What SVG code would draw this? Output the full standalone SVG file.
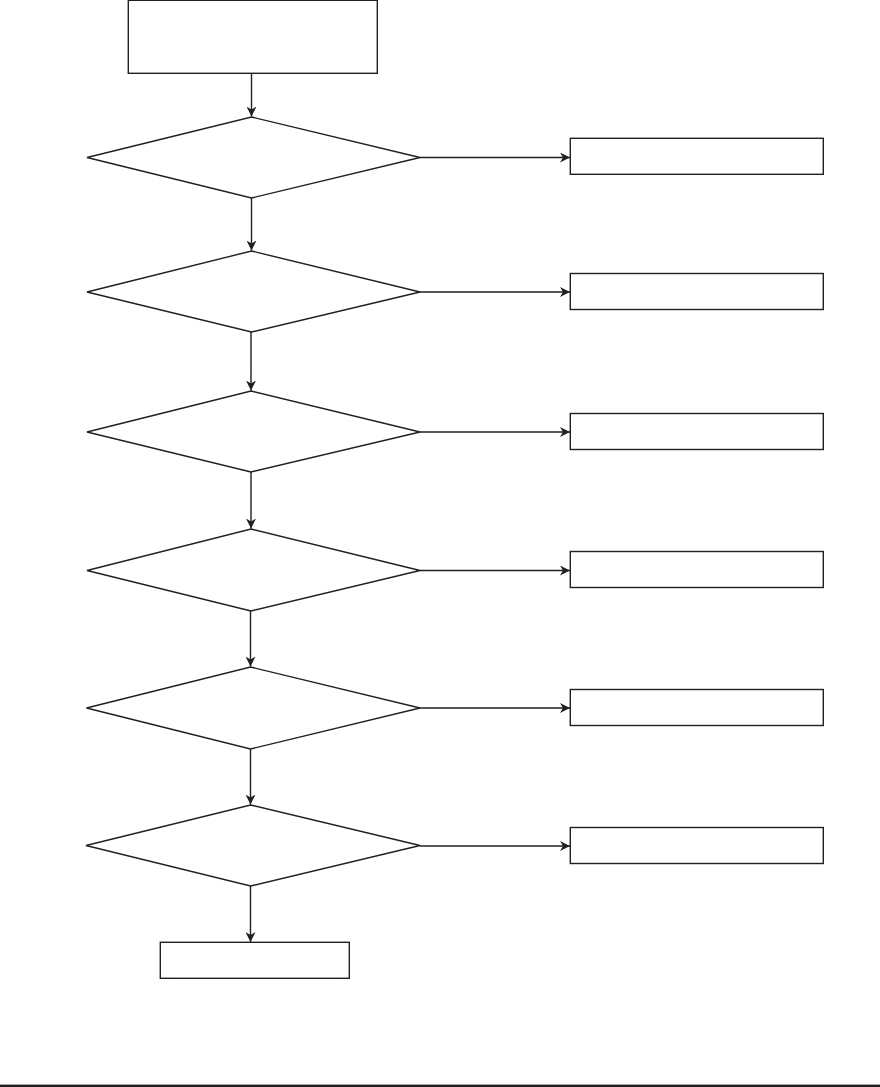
<svg xmlns="http://www.w3.org/2000/svg" width="880" height="1087" viewBox="0 0 880 1087">
<style>
.n{fill:#fff;stroke:#231f20;stroke-width:1.4}
.c{fill:none;stroke:#231f20;stroke-width:1.4}
</style>
<defs>
<marker id="a" viewBox="0 0 10 10" refX="10" refY="5" markerWidth="10" markerHeight="10" markerUnits="userSpaceOnUse" orient="auto">
<path d="M0,0 L10,5 L0,10 L3,5 Z" fill="#231f20"/>
</marker>
</defs>
<rect width="880" height="1087" fill="#fff"/>
<g id="connectors">
<path class="c" d="M251.5,73 V116.5" marker-end="url(#a)"/>
<path class="c" d="M251.5,198 V250.5" marker-end="url(#a)"/>
<path class="c" d="M251,332 V390.5" marker-end="url(#a)"/>
<path class="c" d="M251,472 V528.5" marker-end="url(#a)"/>
<path class="c" d="M250.5,611 V666.5" marker-end="url(#a)"/>
<path class="c" d="M250.5,749 V804.5" marker-end="url(#a)"/>
<path class="c" d="M250.5,886 V942" marker-end="url(#a)"/>
<path class="c" d="M420,157.5 H570" marker-end="url(#a)"/>
<path class="c" d="M420,292 H570" marker-end="url(#a)"/>
<path class="c" d="M420,432 H570" marker-end="url(#a)"/>
<path class="c" d="M420,570.5 H570" marker-end="url(#a)"/>
<path class="c" d="M420,708 H570" marker-end="url(#a)"/>
<path class="c" d="M420,846 H570" marker-end="url(#a)"/>
</g>
<g id="start"><rect class="n" x="128.3" y="0.3" width="249" height="73"/></g>
<g id="d1"><polygon class="n" points="251.5,117 420,157.5 251.5,198 87,157.5"/></g>
<g id="d2"><polygon class="n" points="251.5,251 420,292 251.5,332 87,292"/></g>
<g id="d3"><polygon class="n" points="251,391 420,432 251,472 87,432"/></g>
<g id="d4"><polygon class="n" points="251,529 420,570.5 251,611 87,570.5"/></g>
<g id="d5"><polygon class="n" points="250.5,667 420,708 250.5,749 86.5,708"/></g>
<g id="d6"><polygon class="n" points="250.5,805 420,845.5 250.5,886 86,845.5"/></g>
<g id="b1"><rect class="n" x="570.3" y="138.3" width="253" height="36"/></g>
<g id="b2"><rect class="n" x="570.3" y="273.5" width="253" height="36"/></g>
<g id="b3"><rect class="n" x="570.3" y="413.5" width="253" height="36"/></g>
<g id="b4"><rect class="n" x="570.3" y="551.5" width="253" height="36"/></g>
<g id="b5"><rect class="n" x="570.3" y="689.5" width="253" height="36"/></g>
<g id="b6"><rect class="n" x="570.3" y="827.5" width="253" height="36"/></g>
<g id="end"><rect class="n" x="160.3" y="942.3" width="189" height="36"/></g>
<rect x="0" y="1084.6" width="880" height="2.4" fill="#231f20"/>
</svg>
